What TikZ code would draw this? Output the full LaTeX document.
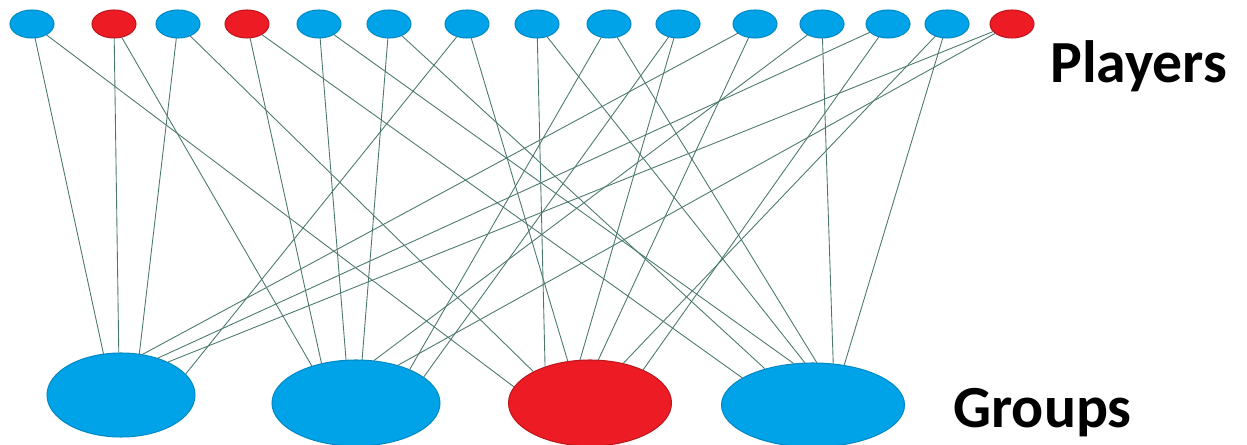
\documentclass[tikz,border=0pt]{standalone}
\usepackage{fontspec}
\setmainfont{Carlito}
\usetikzlibrary{shapes.geometric}
\definecolor{pblue}{RGB}{0,162,232}
\definecolor{pred}{RGB}{237,28,36}
\definecolor{linkgreen}{RGB}{75,120,110}
\begin{document}
\begin{tikzpicture}[x=0.02cm, y=-0.02cm, line join=round, line cap=round,
  player/.style={ellipse, minimum width=0.88cm, minimum height=0.56cm, inner sep=0pt},
  group/.style={ellipse, inner sep=0pt},
  bluenode/.style={fill=pblue, draw=pblue!85!black, line width=0.6pt},
  rednode/.style={fill=pred, draw=pred!80!black, line width=0.6pt},
  link/.style={draw=linkgreen, line width=0.5pt},
  tag/.style={font=\bfseries\fontsize{34}{37}\selectfont, anchor=base west, inner sep=0pt}]
\useasboundingbox (0,0) rectangle (1247,445);
\node[player, bluenode] (p1) at (32,24) {};
\node[player, rednode] (p2) at (114,24) {};
\node[player, bluenode] (p3) at (178,24) {};
\node[player, rednode] (p4) at (247,24) {};
\node[player, bluenode] (p5) at (319,24) {};
\node[player, bluenode] (p6) at (389,24) {};
\node[player, bluenode] (p7) at (467,24) {};
\node[player, bluenode] (p8) at (537,24) {};
\node[player, bluenode] (p9) at (609,24) {};
\node[player, bluenode] (p10) at (678,24) {};
\node[player, bluenode] (p11) at (755,24) {};
\node[player, bluenode] (p12) at (822,24) {};
\node[player, bluenode] (p13) at (888,24) {};
\node[player, bluenode] (p14) at (947,24) {};
\node[player, rednode] (p15) at (1012,24) {};
\node[group, bluenode, minimum width=2.96cm, minimum height=1.68cm] (g1) at (121,395) {};
\node[group, bluenode, minimum width=3.36cm, minimum height=1.72cm] (g2) at (356,403) {};
\node[group, rednode, minimum width=3.26cm, minimum height=1.72cm] (g3) at (590,403) {};
\node[group, bluenode, minimum width=3.66cm, minimum height=1.68cm] (g4) at (813,405) {};
\node[tag] (players) at (1050,83) {Players};
\node[tag] (groups) at (953,428) {Groups};
\draw[link] (p1) -- (g1.113);
\draw[link] (p1) -- (g3.168);
\draw[link] (p2) -- (g1.93);
\draw[link] (p2) -- (g2.140);
\draw[link] (p3) -- (g1.66);
\draw[link] (p3) -- (g3.151);
\draw[link] (p4) -- (g2.131);
\draw[link] (p4) -- (g4.159);
\draw[link] (p5) -- (g2.103);
\draw[link] (p5) -- (g4.115);
\draw[link] (p6) -- (g2.82);
\draw[link] (p6) -- (g4.143);
\draw[link] (p7) -- (g1.18);
\draw[link] (p7) -- (g3.118);
\draw[link] (p8) -- (g3.141);
\draw[link] (p8) -- (g4.101);
\draw[link] (p9) -- (g2.32);
\draw[link] (p9) -- (g4.85);
\draw[link] (p10) -- (g2.21);
\draw[link] (p10) -- (g3.103);
\draw[link] (p11) -- (g1.62);
\draw[link] (p11) -- (g3.79);
\draw[link] (p12) -- (g2.67);
\draw[link] (p12) -- (g4.64);
\draw[link] (p13) -- (g1.45);
\draw[link] (p13) -- (g3.32);
\draw[link] (p14) -- (g3.50);
\draw[link] (p14) -- (g4.52);
\draw[link] (p15) -- (g1.35);
\draw[link] (p15) -- (g2.42);
\end{tikzpicture}
\end{document}
